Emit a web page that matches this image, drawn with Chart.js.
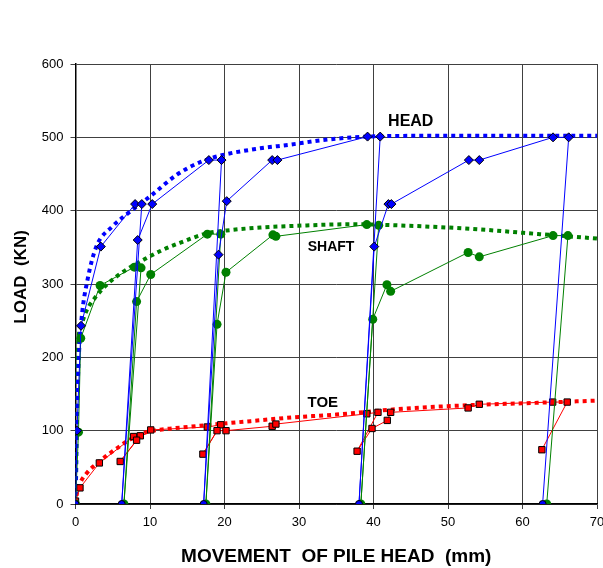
<!DOCTYPE html>
<html>
<head>
<meta charset="utf-8">
<script src="https://cdn.jsdelivr.net/npm/chart.js@4"></script>
<style>
  html, body { margin: 0; padding: 0; background: #fff; }
  #chart { display: block; }
</style>
</head>
<body>
<canvas id="chart" width="603" height="568"></canvas>
<script>
// Load test readings, in the order they were taken
const headX = [0, 0.2, 0.74, 3.4, 8.0, 8.9, 6.2, 8.35, 10.3, 17.9, 19.6, 17.2, 19.2, 20.3, 26.4, 27.1, 39.2, 40.9, 38.05, 40.1, 42.0, 42.4, 52.8, 54.2, 64.1, 66.2, 62.7];
const headY = [0, 100, 243, 351, 409, 409, 0, 360, 409, 469, 469, 0, 340, 413, 469, 469, 501, 501, 0, 351, 409, 409, 469, 469, 500, 500, 0];

const shaftX = [0, 0.4, 0.7, 3.3, 7.9, 8.8, 6.5, 8.2, 10.1, 17.7, 19.5, 17.5, 19.0, 20.2, 26.5, 26.9, 39.1, 40.7, 38.3, 39.9, 41.8, 42.3, 52.7, 54.2, 64.1, 66.1, 63.25];
const shaftY = [0, 98, 226, 298, 323, 322, 0, 276, 313, 368, 368, 0, 245, 316, 367, 365, 381, 380, 0, 252, 299, 290, 343, 337, 366, 366, 0];

const toeX = [0, 0.6, 3.2, 7.8, 8.7, 6.0, 8.2, 10.1, 17.7, 19.5, 17.1, 19.0, 20.2, 26.4, 26.9, 39.1, 40.6, 37.8, 39.8, 41.85, 42.3, 52.7, 54.2, 64.05, 66.0, 62.6];
const toeY = [4, 22, 56, 92, 93, 58, 87, 101, 105, 108, 68, 100, 100, 106, 109, 123, 125, 72, 103, 114, 125, 131, 136, 139, 139, 74];

// Dotted trend curves
const headTrendX = [0, 0.1, 0.2, 0.4, 0.8, 1.7, 2.8, 4.9, 7.5, 10.2, 13.6, 16.7, 19.8, 24.8, 28.8, 33, 37.3, 45, 55, 70];
const headTrendY = [0, 50, 120, 190, 251, 310, 351, 378, 400, 421, 449, 466, 476, 485, 490, 496, 500, 502, 502, 502];

const shaftTrendX = [0, 0.05, 0.15, 0.4, 0.8, 1.5, 2.6, 4.4, 6.6, 9.3, 11.6, 14, 17.6, 20.3, 24.8, 28.8, 37.3, 44.5, 53.4, 62.3, 70];
const shaftTrendY = [0, 80, 160, 225, 244, 264, 281, 301, 318, 334, 346, 356, 369, 373, 377, 379, 381.5, 379.5, 375, 368, 362];

const toeTrendX = [0, 0.2, 0.6, 1.5, 3.2, 4.6, 5.7, 7, 9.2, 12, 14, 18, 23.5, 29, 35, 44, 53.5, 62, 70];
const toeTrendY = [0, 15, 28, 42, 58, 69, 77, 86, 97, 102, 104, 108, 113, 118, 122, 130, 135, 138, 141];

const curveLabels = ['HEAD', 'SHAFT', 'TOE'];
const labelAt = [[45, 522, 16], [34.3, 350, 14], [33.2, 138, 15]];

const xTicks = [0, 10, 20, 30, 40, 50, 60, 70];
const yTicks = [0, 100, 200, 300, 400, 500, 600];

const pts = (xs, ys) => xs.map((x, i) => ({ x: x, y: ys[i] }));
const FONT = "'Liberation Sans', Arial, sans-serif";

function series(label, xs, ys, color, style, radius) {
  return {
    label: label,
    data: pts(xs, ys),
    showLine: true,
    borderColor: color,
    borderWidth: 1,
    backgroundColor: color,
    pointBackgroundColor: color,
    pointBorderColor: style === 'circle' ? color : '#000',
    pointBorderWidth: style === 'circle' ? 0 : 1,
    pointStyle: ctx => (style === 'rectRot' && ctx.raw && ctx.raw.y === 0) ? 'circle' : style,
    pointRadius: ctx => (style === 'rectRot' && ctx.raw && ctx.raw.y === 0) ? 3.5 : radius,
    tension: 0,
    order: 1
  };
}

function trend(xs, ys, color) {
  return {
    data: pts(xs, ys),
    showLine: true,
    borderColor: color,
    borderWidth: 4,
    borderDash: [4, 4],
    borderCapStyle: 'butt',
    pointRadius: 0,
    cubicInterpolationMode: 'monotone',
    order: 5
  };
}

const curveText = {
  id: 'curveText',
  afterDatasetsDraw(chart) {
    const c = chart.ctx;
    const xs = chart.scales.x, ys = chart.scales.y;
    c.save();
    c.fillStyle = '#000';
    c.textAlign = 'center';
    c.textBaseline = 'middle';
    curveLabels.forEach((t, i) => {
      c.font = 'bold ' + labelAt[i][2] + 'px ' + FONT;
      c.fillText(t, xs.getPixelForValue(labelAt[i][0]), ys.getPixelForValue(labelAt[i][1]));
    });
    c.restore();
  }
};

new Chart(document.getElementById('chart'), {
  type: 'scatter',
  data: {
    datasets: [
      series('HEAD', headX, headY, '#0000ff', 'rectRot', 4.5),
      series('SHAFT', shaftX, shaftY, '#008000', 'circle', 4.5),
      series('TOE', toeX, toeY, '#ff0000', 'rect', 4.5),
      trend(headTrendX, headTrendY, '#0000ff'),
      trend(shaftTrendX, shaftTrendY, '#008000'),
      trend(toeTrendX, toeTrendY, '#ff0000')
    ]
  },
  options: {
    responsive: false,
    animation: false,
    layout: { autoPadding: false, padding: { left: 0, top: 64, right: 6, bottom: 0 } },
    plugins: { legend: { display: false }, tooltip: { enabled: false } },
    scales: {
      x: {
        type: 'linear',
        min: 0, max: 70,
        afterBuildTicks: s => { s.ticks = xTicks.map(v => ({ value: v })); },
        afterFit: s => { s.height = 64; s.paddingLeft = 0; s.paddingRight = 0; },
        grid: { color: '#404040', lineWidth: 1, tickLength: 5 },
        border: { color: '#000', width: 1.5 },
        ticks: { color: '#000', font: { family: FONT, size: 13 }, padding: 6, maxRotation: 0 },
        title: { display: true, text: 'MOVEMENT  OF PILE HEAD  (mm)', color: '#000',
                 font: { family: FONT, size: 19, weight: 'bold' }, padding: { top: 2, bottom: 0 } }
      },
      y: {
        type: 'linear',
        min: 0, max: 600,
        afterBuildTicks: s => { s.ticks = yTicks.map(v => ({ value: v })); },
        afterFit: s => { s.width = 75.5; s.paddingTop = 0; s.paddingBottom = 0; },
        grid: { color: '#404040', lineWidth: 1, tickLength: 5 },
        border: { color: '#000', width: 1.5 },
        ticks: { color: '#000', font: { family: FONT, size: 13 }, padding: 7 },
        title: { display: true, text: '   LOAD  (KN)', color: '#000',
                 font: { family: FONT, size: 17, weight: 'bold' }, padding: { top: 11, bottom: 0 } }
      }
    }
  },
  plugins: [curveText]
});
</script>
</body>
</html>
